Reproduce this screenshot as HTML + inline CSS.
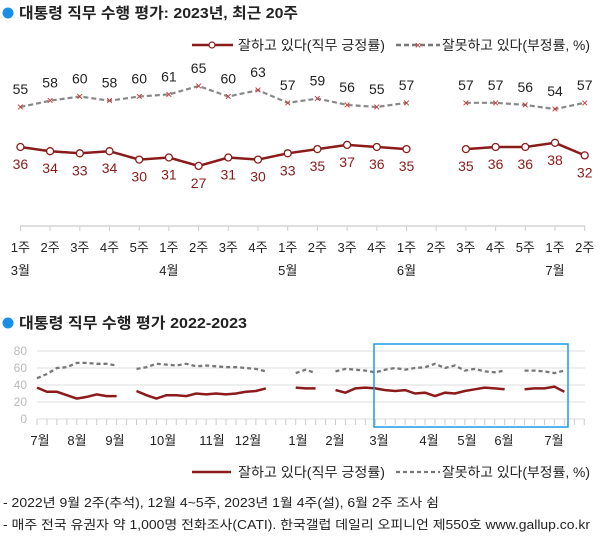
<!DOCTYPE html>
<html><head><meta charset="utf-8"><style>
html,body{margin:0;padding:0;background:#fff;}
svg{display:block;font-family:"Liberation Sans","Noto Sans CJK KR",sans-serif;}
</style></head><body>
<svg width="600" height="548" viewBox="0 0 600 548" xmlns="http://www.w3.org/2000/svg">
<!-- Title 1 -->
<circle cx="8" cy="13" r="5.5" fill="#1a8fe8"/>
<text x="19" y="18" font-size="15" font-weight="bold" fill="#222" textLength="279" lengthAdjust="spacingAndGlyphs">대통령 직무 수행 평가: 2023년, 최근 20주</text>
<!-- legend top -->
<line x1="192" y1="45" x2="233" y2="45" stroke="#8b1a1a" stroke-width="2.5"/>
<circle cx="212" cy="45" r="3" fill="#fff" stroke="#8b1a1a" stroke-width="1.2"/>
<text x="238" y="50" font-size="13.5" fill="#222" textLength="147" lengthAdjust="spacingAndGlyphs">잘하고 있다(직무 긍정률)</text>
<line x1="396" y1="45" x2="440" y2="45" stroke="#777" stroke-width="2.5" stroke-dasharray="5,3"/>
<text x="418" y="49" font-size="11" fill="#c33" text-anchor="middle">×</text>
<text x="442" y="50" font-size="13.5" fill="#222" textLength="148" lengthAdjust="spacingAndGlyphs">잘못하고 있다(부정률, %)</text>

<!-- top dashed -->
<g fill="none" stroke="#888" stroke-width="2.2" stroke-dasharray="5,3">
<polyline points="20.4,107 50.1,100.7 79.8,96.5 109.5,100.7 139.2,96.5 168.9,94.4 198.6,86 228.3,96.5 258,90.2 287.7,102.8 317.4,98.6 347.1,104.9 376.8,107 406.5,102.8"/>
<polyline points="465.9,102.8 495.6,102.8 525.3,104.9 555,109.1 584.7,102.8"/>
</g>
<g font-size="12" fill="#c33" text-anchor="middle">
<text x="20.4" y="111">×</text><text x="50.1" y="104.7">×</text><text x="79.8" y="100.5">×</text><text x="109.5" y="104.7">×</text><text x="139.2" y="100.5">×</text><text x="168.9" y="98.4">×</text><text x="198.6" y="90">×</text><text x="228.3" y="100.5">×</text><text x="258" y="94.2">×</text><text x="287.7" y="106.8">×</text><text x="317.4" y="102.6">×</text><text x="347.1" y="108.9">×</text><text x="376.8" y="111">×</text><text x="406.5" y="106.8">×</text>
<text x="465.9" y="106.8">×</text><text x="495.6" y="106.8">×</text><text x="525.3" y="108.9">×</text><text x="555" y="113.1">×</text><text x="584.7" y="106.8">×</text>
</g>
<g font-size="14" fill="#222" text-anchor="middle">
<text x="20.4" y="94">55</text><text x="50.1" y="87.7">58</text><text x="79.8" y="83.5">60</text><text x="109.5" y="87.7">58</text><text x="139.2" y="83.5">60</text><text x="168.9" y="81.4">61</text><text x="198.6" y="73">65</text><text x="228.3" y="83.5">60</text><text x="258" y="77.2">63</text><text x="287.7" y="89.8">57</text><text x="317.4" y="85.6">59</text><text x="347.1" y="91.9">56</text><text x="376.8" y="94">55</text><text x="406.5" y="89.8">57</text>
<text x="465.9" y="89.8">57</text><text x="495.6" y="89.8">57</text><text x="525.3" y="91.9">56</text><text x="555" y="96.1">54</text><text x="584.7" y="89.8">57</text>
</g>

<!-- top solid -->
<g fill="none" stroke="#8b1a1a" stroke-width="2.5">
<polyline points="20.4,147 50.1,151.2 79.8,153.3 109.5,151.2 139.2,159.6 168.9,157.5 198.6,165.9 228.3,157.5 258,159.6 287.7,153.3 317.4,149.1 347.1,144.9 376.8,147 406.5,149.1"/>
<polyline points="465.9,149.1 495.6,147 525.3,147 555,142.8 584.7,155.4"/>
</g>
<g fill="#fff" stroke="#8b1a1a" stroke-width="1.3">
<circle cx="20.4" cy="147" r="3.5"/><circle cx="50.1" cy="151.2" r="3.5"/><circle cx="79.8" cy="153.3" r="3.5"/><circle cx="109.5" cy="151.2" r="3.5"/><circle cx="139.2" cy="159.6" r="3.5"/><circle cx="168.9" cy="157.5" r="3.5"/><circle cx="198.6" cy="165.9" r="3.5"/><circle cx="228.3" cy="157.5" r="3.5"/><circle cx="258" cy="159.6" r="3.5"/><circle cx="287.7" cy="153.3" r="3.5"/><circle cx="317.4" cy="149.1" r="3.5"/><circle cx="347.1" cy="144.9" r="3.5"/><circle cx="376.8" cy="147" r="3.5"/><circle cx="406.5" cy="149.1" r="3.5"/>
<circle cx="465.9" cy="149.1" r="3.5"/><circle cx="495.6" cy="147" r="3.5"/><circle cx="525.3" cy="147" r="3.5"/><circle cx="555" cy="142.8" r="3.5"/><circle cx="584.7" cy="155.4" r="3.5"/>
</g>
<g font-size="14" fill="#8b1a1a" text-anchor="middle">
<text x="20.4" y="169">36</text><text x="50.1" y="173.2">34</text><text x="79.8" y="175.3">33</text><text x="109.5" y="173.2">34</text><text x="139.2" y="181.6">30</text><text x="168.9" y="179.5">31</text><text x="198.6" y="187.9">27</text><text x="228.3" y="179.5">31</text><text x="258" y="181.6">30</text><text x="287.7" y="175.3">33</text><text x="317.4" y="171.1">35</text><text x="347.1" y="166.9">37</text><text x="376.8" y="169">36</text><text x="406.5" y="171.1">35</text>
<text x="465.9" y="171.1">35</text><text x="495.6" y="169">36</text><text x="525.3" y="169">36</text><text x="555" y="164.8">38</text><text x="584.7" y="177.4">32</text>
</g>

<!-- top axis -->
<line x1="20" y1="226" x2="585" y2="226" stroke="#ccc" stroke-width="1.2"/>
<g stroke="#ccc" stroke-width="1">
<line x1="20.4" y1="226" x2="20.4" y2="231"/><line x1="50.1" y1="226" x2="50.1" y2="231"/><line x1="79.8" y1="226" x2="79.8" y2="231"/><line x1="109.5" y1="226" x2="109.5" y2="231"/><line x1="139.2" y1="226" x2="139.2" y2="231"/><line x1="168.9" y1="226" x2="168.9" y2="231"/><line x1="198.6" y1="226" x2="198.6" y2="231"/><line x1="228.3" y1="226" x2="228.3" y2="231"/><line x1="258" y1="226" x2="258" y2="231"/><line x1="287.7" y1="226" x2="287.7" y2="231"/><line x1="317.4" y1="226" x2="317.4" y2="231"/><line x1="347.1" y1="226" x2="347.1" y2="231"/><line x1="376.8" y1="226" x2="376.8" y2="231"/><line x1="406.5" y1="226" x2="406.5" y2="231"/><line x1="436.2" y1="226" x2="436.2" y2="231"/><line x1="465.9" y1="226" x2="465.9" y2="231"/><line x1="495.6" y1="226" x2="495.6" y2="231"/><line x1="525.3" y1="226" x2="525.3" y2="231"/><line x1="555" y1="226" x2="555" y2="231"/><line x1="584.7" y1="226" x2="584.7" y2="231"/>
</g>
<g font-size="13" fill="#222" text-anchor="middle">
<text x="20.4" y="252">1주</text><text x="50.1" y="252">2주</text><text x="79.8" y="252">3주</text><text x="109.5" y="252">4주</text><text x="139.2" y="252">5주</text><text x="168.9" y="252">1주</text><text x="198.6" y="252">2주</text><text x="228.3" y="252">3주</text><text x="258" y="252">4주</text><text x="287.7" y="252">1주</text><text x="317.4" y="252">2주</text><text x="347.1" y="252">3주</text><text x="376.8" y="252">4주</text><text x="406.5" y="252">1주</text><text x="436.2" y="252">2주</text><text x="465.9" y="252">3주</text><text x="495.6" y="252">4주</text><text x="525.3" y="252">5주</text><text x="555" y="252">1주</text><text x="584.7" y="252">2주</text>
<text x="20.4" y="275">3월</text><text x="168.9" y="275">4월</text><text x="287.7" y="275">5월</text><text x="406.5" y="275">6월</text><text x="555" y="275">7월</text>
</g>

<!-- Title 2 -->
<circle cx="8" cy="323" r="5.5" fill="#1a8fe8"/>
<text x="19" y="328" font-size="15" font-weight="bold" fill="#222" textLength="228" lengthAdjust="spacingAndGlyphs">대통령 직무 수행 평가 2022-2023</text>

<!-- bottom grid -->
<g stroke="#ddd" stroke-width="1">
<line x1="37" y1="351" x2="585" y2="351"/><line x1="37" y1="368" x2="585" y2="368"/><line x1="37" y1="385" x2="585" y2="385"/><line x1="37" y1="402" x2="585" y2="402"/><line x1="37" y1="419" x2="585" y2="419"/>
</g>
<g font-size="12" fill="#bbb" text-anchor="end">
<text x="27" y="355">80</text><text x="27" y="372">60</text><text x="27" y="389">40</text><text x="27" y="406">20</text><text x="27" y="423">0</text>
</g>
<g stroke="#ccc" stroke-width="1">
<path d="M37,419v6M46.95,419v6M56.9,419v6M66.85,419v6M76.8,419v6M86.75,419v6M96.7,419v6M106.65,419v6M116.6,419v6M126.55,419v6M136.5,419v6M146.45,419v6M156.4,419v6M166.35,419v6M176.3,419v6M186.25,419v6M196.2,419v6M206.15,419v6M216.1,419v6M226.05,419v6M236,419v6M245.95,419v6M255.9,419v6M265.85,419v6M275.8,419v6M285.75,419v6M295.7,419v6M305.65,419v6M315.6,419v6M325.55,419v6M335.5,419v6M345.45,419v6M355.4,419v6M365.35,419v6M375.3,419v6M385.25,419v6M395.2,419v6M405.15,419v6M415.1,419v6M425.05,419v6M435,419v6M444.95,419v6M454.9,419v6M464.85,419v6M474.8,419v6M484.75,419v6M494.7,419v6M504.65,419v6M514.6,419v6M524.55,419v6M534.5,419v6M544.45,419v6M554.4,419v6M564.35,419v6M574.3,419v6M584.25,419v6"/>
</g>
<!-- bottom dashed -->
<g fill="none" stroke="#777" stroke-width="2.3" stroke-dasharray="4,3">
<polyline points="37,378.2 46.95,374 56.9,368 66.85,367.2 76.8,362.9 86.75,362.9 96.7,363.8 106.65,363.8 116.6,365.5"/>
<polyline points="136.5,368.9 146.45,367.2 156.4,363.8 166.35,364.6 176.3,365.5 186.25,363.8 196.2,366.3 206.15,365.5 216.1,366.3 226.05,367.2 236,367.2 245.95,368 255.9,368.9 265.85,371.4"/>
<polyline points="295.7,373.1 305.65,369.7 315.6,373.1"/>
<polyline points="335.5,371.4 345.45,368.9 355.4,369.7 365.35,370.6 375.3,372.3 385.25,369.7 395.2,368 405.15,369.7 415.1,368 425.05,367.2 435,363.8 444.95,368 454.9,365.5 464.85,370.6 474.8,368.9 484.75,371.4 494.7,372.3 504.65,370.6"/>
<polyline points="524.55,370.6 534.5,370.6 544.45,371.4 554.4,373.1 564.35,370.6"/>
</g>
<!-- bottom solid -->
<g fill="none" stroke="#8b1a1a" stroke-width="2.5">
<polyline points="37,387.6 46.95,391.8 56.9,391.8 66.85,395.2 76.8,398.6 86.75,396.9 96.7,394.4 106.65,396.1 116.6,396.1"/>
<polyline points="136.5,391 146.45,395.2 156.4,398.6 166.35,395.2 176.3,395.2 186.25,396.1 196.2,393.5 206.15,394.4 216.1,393.5 226.05,394.4 236,393.5 245.95,391.8 255.9,391 265.85,388.4"/>
<polyline points="295.7,387.6 305.65,388.4 315.6,388.4"/>
<polyline points="335.5,390.1 345.45,392.7 355.4,388.4 365.35,387.6 375.3,388.4 385.25,390.1 395.2,391 405.15,390.1 415.1,393.5 425.05,392.7 435,396.1 444.95,392.7 454.9,393.5 464.85,391 474.8,389.3 484.75,387.6 494.7,388.4 504.65,389.3"/>
<polyline points="524.55,389.3 534.5,388.4 544.45,388.4 554.4,386.7 564.35,391.8"/>
</g>
<rect x="374" y="344" width="194" height="83" fill="none" stroke="#1a9be8" stroke-width="1.5"/>
<g font-size="13" fill="#222" text-anchor="middle">
<text x="40" y="445">7월</text><text x="77" y="445">8월</text><text x="115" y="445">9월</text><text x="163" y="445">10월</text><text x="212" y="445">11월</text><text x="248" y="445">12월</text><text x="298" y="445">1월</text><text x="335" y="445">2월</text><text x="379" y="445">3월</text><text x="429" y="445">4월</text><text x="467" y="445">5월</text><text x="504" y="445">6월</text><text x="554" y="445">7월</text>
</g>
<!-- bottom legend -->
<line x1="192" y1="472" x2="231" y2="472" stroke="#8b1a1a" stroke-width="2.5"/>
<text x="238" y="477" font-size="13.5" fill="#222" textLength="147" lengthAdjust="spacingAndGlyphs">잘하고 있다(직무 긍정률)</text>
<line x1="396" y1="472" x2="440" y2="472" stroke="#777" stroke-width="2.3" stroke-dasharray="4,3"/>
<text x="442" y="477" font-size="13.5" fill="#222" textLength="148" lengthAdjust="spacingAndGlyphs">잘못하고 있다(부정률, %)</text>
<!-- footnotes -->
<text x="3" y="507" font-size="12.5" fill="#222" textLength="436" lengthAdjust="spacingAndGlyphs">- 2022년 9월 2주(추석), 12월 4~5주, 2023년 1월 4주(설), 6월 2주 조사 쉼</text>
<text x="3" y="529" font-size="12.5" fill="#222" textLength="587" lengthAdjust="spacingAndGlyphs">- 매주 전국 유권자 약 1,000명 전화조사(CATI). 한국갤럽 데일리 오피니언 제550호 www.gallup.co.kr</text>
</svg>
</body></html>
